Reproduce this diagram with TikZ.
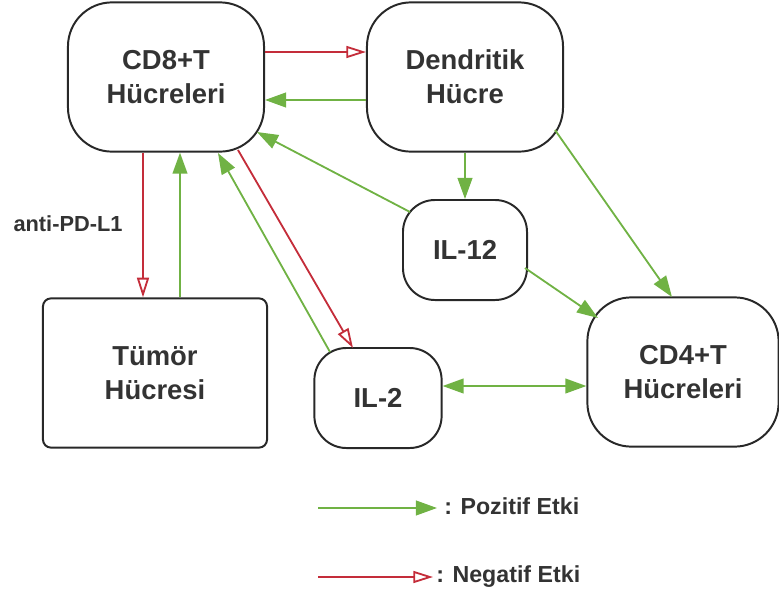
\documentclass[tikz,border=0pt]{standalone}
\usepackage{fontspec}
\setmainfont{Liberation Sans}
\usetikzlibrary{arrows.meta, calc}
\definecolor{posgreen}{RGB}{112,178,68}
\definecolor{negred}{RGB}{196,45,58}
\definecolor{boxgray}{RGB}{40,40,40}
\definecolor{txtgray}{RGB}{51,51,51}

\begin{document}
\begin{tikzpicture}[x=0.025cm, y=-0.025cm,
   cell/.style={draw=boxgray, line width=1.4pt, rounded corners=1.1cm,
                align=center, text=txtgray, font=\fontsize{19.5}{24}\selectfont\bfseries,
                minimum width=4.9cm, minimum height=3.73cm},
   small/.style={cell, rounded corners=0.8cm, minimum height=2.5cm},
   posarr/.style={posgreen, line width=1.3pt, -{Triangle[length=15pt, width=10.5pt]}},
   negarr/.style={negred, line width=1.3pt, -{Triangle[open, length=14pt, width=8.5pt, line width=1.3pt]}},
   lbl/.style={text=txtgray, font=\fontsize{15.5}{18}\selectfont\bfseries}]
  \useasboundingbox (0,0) rectangle (779,600);
  \node[cell] (cd8) at (166,77) {CD8+T\\Hücreleri};
  \node[cell] (dc) at (465,77) {Dendritik\\Hücre};
  \node[small, minimum width=3.1cm] (il12) at (465,250) {IL-12};
  \node[cell, rounded corners=0.2cm, minimum width=5.6cm] (tumor) at (155,373) {Tümör\\Hücresi};
  \node[small, minimum width=3.18cm] (il2) at (378,398) {IL-2};
  \node[cell, minimum width=4.78cm] (cd4) at (683,372) {CD4+T\\Hücreleri};
  \node[lbl] (antipd) at (68,224) {anti-PD-L1};

  % negative effects
  \draw[negarr] ($(cd8.east)+(0,-25)$) -- ($(dc.west)+(0,-25)$);
  \draw[negarr] ($(cd8.south)+(-23,0)$) -- ($(tumor.north)+(-12,0)$);
  \draw[negarr] ($(cd8)+(72,73)$) -- ($(il2)+(-25,-50)$);
  % positive effects
  \draw[posarr] ($(dc.west)+(0,23)$) -- ($(cd8.east)+(0,23)$);
  \draw[posarr] ($(tumor.north)+(25,0)$) -- ($(cd8.south)+(14,0)$);
  \draw[posarr] ($(il12)+(-55,-38)$) -- ($(cd8)+(91,55)$);
  \draw[posarr] ($(il2)+(-48,-46)$) -- ($(cd8)+(52,76)$);
  \draw[posarr] (dc.south) -- (il12.north);
  \draw[posarr] ($(dc)+(90,53)$) -- ($(cd4)+(-11,-75)$);
  \draw[posarr] ($(il12)+(60,18)$) -- ($(cd4)+(-85,-54)$);
  \draw[posarr, {Triangle[length=15pt, width=10.5pt]}-{Triangle[length=15pt, width=10.5pt]}]
     ($(il2.east)+(0,-12)$) -- ($(cd4.west)+(0,14)$);

  % legend
  \coordinate (pa) at (318,508); \coordinate (pb) at (437,508);
  \coordinate (na) at (318,577); \coordinate (nb) at (433,577);
  \draw[posarr] (pa) -- (pb);
  \draw[negarr] (na) -- (nb);
  \node[lbl, font=\fontsize{16.5}{18}\selectfont\bfseries, anchor=west, inner sep=0pt] (poslbl) at (444,506) {: Pozitif Etki};
  \node[lbl, font=\fontsize{16.5}{18}\selectfont\bfseries, anchor=west, inner sep=0pt] (neglbl) at (436,577) {: Negatif Etki};
\end{tikzpicture}
\end{document}
